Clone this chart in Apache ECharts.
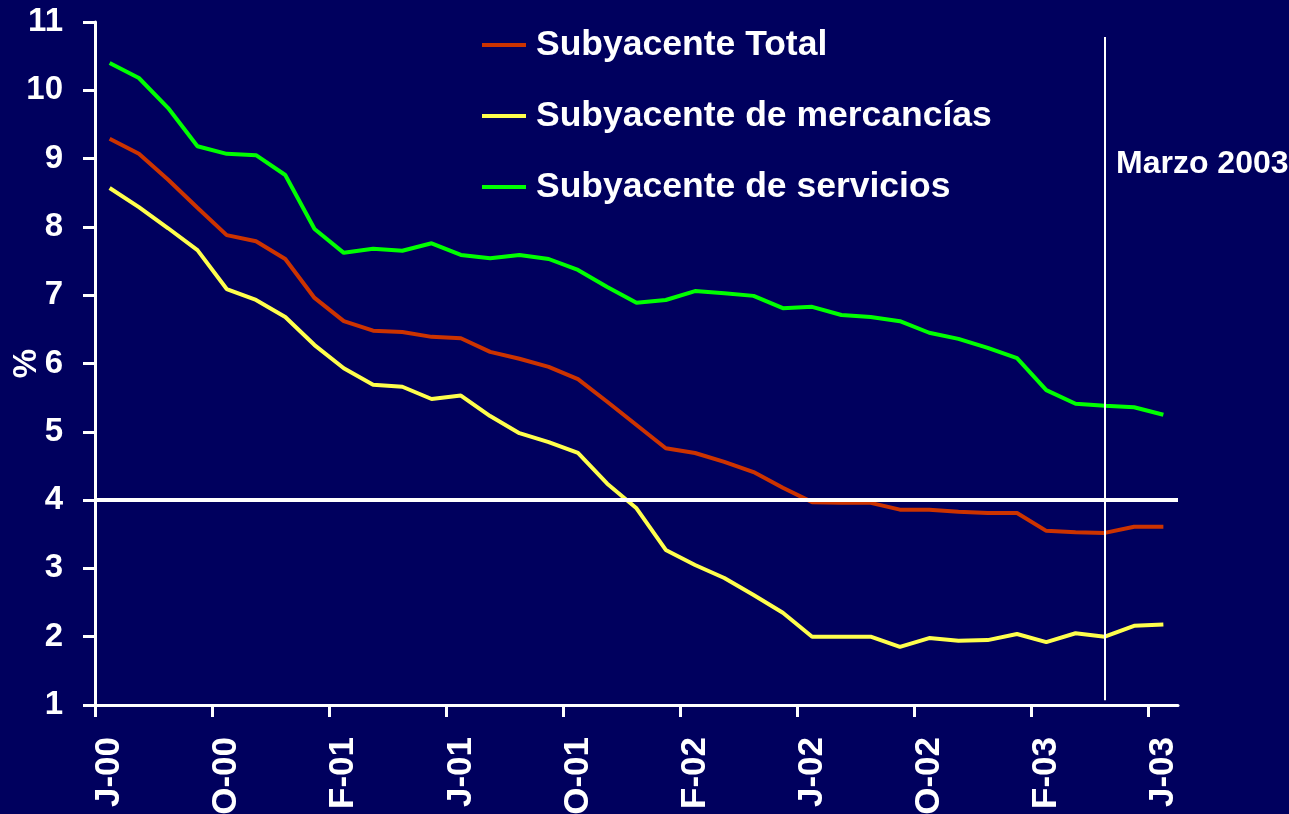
<!DOCTYPE html>
<html>
<head>
<meta charset="utf-8">
<script src="https://cdn.jsdelivr.net/npm/echarts@6/dist/echarts.min.js"></script>
<style>
  html, body { margin: 0; padding: 0; background: #00005e; }
  #chart { width: 1289px; height: 814px; }
</style>
</head>
<body>
<div id="chart"></div>
<script>
// months Jun-2000 .. Jun-2003
const categories = [
  'Jun-00', 'Jul-00', 'Ago-00', 'Sep-00', 'Oct-00', 'Nov-00', 'Dic-00',
  'Ene-01', 'Feb-01', 'Mar-01', 'Abr-01', 'May-01', 'Jun-01', 'Jul-01', 'Ago-01', 'Sep-01', 'Oct-01', 'Nov-01', 'Dic-01',
  'Ene-02', 'Feb-02', 'Mar-02', 'Abr-02', 'May-02', 'Jun-02', 'Jul-02', 'Ago-02', 'Sep-02', 'Oct-02', 'Nov-02', 'Dic-02',
  'Ene-03', 'Feb-03', 'Mar-03', 'Abr-03', 'May-03', 'Jun-03'
]

const total = [9.29, 9.07, 8.69, 8.28, 7.88, 7.79, 7.53, 6.96, 6.62, 6.48,
  6.46, 6.39, 6.37, 6.17, 6.07, 5.95, 5.77, 5.44, 5.10, 4.76,
  4.69, 4.56, 4.41, 4.18, 3.97, 3.96, 3.96, 3.86, 3.86, 3.83,
  3.81, 3.81, 3.55, 3.53, 3.52, 3.61, 3.61]

const mercancias = [8.57, 8.29, 7.98, 7.66, 7.09, 6.93, 6.68, 6.27, 5.93, 5.69,
  5.66, 5.48, 5.53, 5.23, 4.98, 4.85, 4.69, 4.24, 3.88, 3.27,
  3.05, 2.86, 2.61, 2.35, 2.00, 2.00, 2.00, 1.85, 1.98, 1.94,
  1.95, 2.04, 1.92, 2.05, 2.00, 2.16, 2.18]

const servicios = [10.40, 10.18, 9.74, 9.18, 9.07, 9.05, 8.76, 7.97, 7.62, 7.68,
  7.65, 7.76, 7.59, 7.54, 7.59, 7.53, 7.37, 7.12, 6.89, 6.93,
  7.06, 7.03, 6.99, 6.81, 6.83, 6.71, 6.68, 6.62, 6.45, 6.36,
  6.23, 6.08, 5.61, 5.41, 5.38, 5.36, 5.25]

const seriesNames = ['Subyacente Total', 'Subyacente de mercancías', 'Subyacente de servicios']
const seriesColors = ['#cc3300', '#ffff4d', '#00ff00']
const threshold = 4
const markerMonth = 'Abr-03'
const markerText = 'Marzo 2003'

const font = "'Liberation Sans', Arial, sans-serif"
const white = '#ffffff'

// tick marks sit on the left edge of every 4th month (no tick closing the axis)
const tickEdges = []
for (let i = 0; i < categories.length; i += 4) tickEdges.push(i - 0.5)

const chart = echarts.init(document.getElementById('chart'))

const option = {
  backgroundColor: '#00005e',
  animation: false,
  title: {
    text: markerText,
    left: 1111,
    top: 143,
    textStyle: { color: white, fontFamily: font, fontWeight: 'bold', fontSize: 32 }
  },
  legend: {
    orient: 'vertical',
    left: 477,
    top: 22,
    itemGap: 35,
    itemWidth: 44,
    itemHeight: 4,
    icon: 'rect',
    data: seriesNames,
    textStyle: { color: white, fontFamily: font, fontWeight: 'bold', fontSize: 35.5, padding: [0, 0, 0, 5] }
  },
  grid: { left: 95, right: 111, top: 22, bottom: 109, outerBoundsMode: 'none', containLabel: false },
  xAxis: [
    {
      type: 'category',
      data: categories,
      boundaryGap: true,
      axisLine: { lineStyle: { color: white, width: 3 } },
      axisTick: { show: false },
      axisLabel: {
        interval: 3,
        rotate: 90,
        margin: 32,
        color: white,
        fontFamily: font,
        fontWeight: 'bold',
        fontSize: 35,
        formatter: v => v[0] + v.slice(3)
      }
    },
    {
      type: 'value',
      position: 'bottom',
      min: -0.5,
      max: categories.length - 0.5,
      splitLine: { show: false },
      axisLine: { show: false },
      axisLabel: { show: false },
      axisTick: { show: true, customValues: tickEdges, length: 12, lineStyle: { color: white, width: 3 } }
    }
  ],
  yAxis: {
    type: 'value',
    min: 1,
    max: 11,
    interval: 1,
    name: '%',
    nameLocation: 'middle',
    nameGap: 52,
    nameRotate: 90,
    nameMoveOverlap: false,
    nameTextStyle: { color: white, fontFamily: font, fontWeight: 'bold', fontSize: 33 },
    splitLine: { show: false },
    axisLine: { show: true, onZero: false, lineStyle: { color: white, width: 3 } },
    axisTick: { show: true, length: 12, lineStyle: { color: white, width: 3 } },
    axisLabel: { margin: 32, color: white, fontFamily: font, fontWeight: 'bold', fontSize: 33 }
  },
  series: [
    {
      name: seriesNames[0],
      type: 'line',
      data: total,
      symbol: 'none',
      z: 3,
      lineStyle: { color: seriesColors[0], width: 4 },
      itemStyle: { color: seriesColors[0] },
      markLine: {
        silent: true,
        symbol: 'none',
        label: { show: false },
        data: [
          { yAxis: threshold, lineStyle: { color: white, width: 4, type: 'solid' } },
          [
            { coord: [markerMonth, 10.78], lineStyle: { color: white, width: 2, type: 'solid' } },
            { coord: [markerMonth, 1.07] }
          ]
        ]
      }
    },
    {
      name: seriesNames[1],
      type: 'line',
      data: mercancias,
      symbol: 'none',
      lineStyle: { color: seriesColors[1], width: 4 },
      itemStyle: { color: seriesColors[1] }
    },
    {
      name: seriesNames[2],
      type: 'line',
      data: servicios,
      symbol: 'none',
      lineStyle: { color: seriesColors[2], width: 4 },
      itemStyle: { color: seriesColors[2] }
    }
  ]
}

chart.setOption(option)
</script>
</body>
</html>
